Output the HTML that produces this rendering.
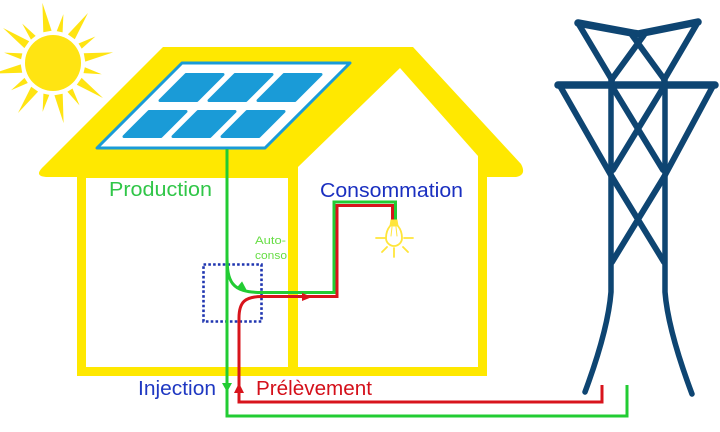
<!DOCTYPE html>
<html>
<head>
<meta charset="utf-8">
<style>
html,body{margin:0;padding:0;background:#fff;}
svg{display:block;}
text{font-family:"Liberation Sans", sans-serif;}
</style>
</head>
<body>
<svg width="720" height="432" viewBox="0 0 720 432" xmlns="http://www.w3.org/2000/svg">
  <rect width="720" height="432" fill="#fff"/>

  <!-- Sun -->
  <g transform="translate(53,63)" fill="#ffe412">
    <circle cx="0" cy="0" r="28"/>
    <g>
      <polygon points="32,-4.2 61,0 32,4.2" transform="rotate(-100)"/>
      <polygon points="32,-4.2 61,0 32,4.2" transform="rotate(-55)"/>
      <polygon points="32,-4.2 61,0 32,4.2" transform="rotate(-10)"/>
      <polygon points="32,-4.2 61,0 32,4.2" transform="rotate(35)"/>
      <polygon points="32,-4.2 61,0 32,4.2" transform="rotate(80)"/>
      <polygon points="32,-4.2 61,0 32,4.2" transform="rotate(125)"/>
      <polygon points="32,-4.2 61,0 32,4.2" transform="rotate(170)"/>
      <polygon points="32,-4.2 61,0 32,4.2" transform="rotate(215)"/>
      <polygon points="32,-3 50,0 32,3" transform="rotate(-78)"/>
      <polygon points="32,-3 50,0 32,3" transform="rotate(-32)"/>
      <polygon points="32,-3 50,0 32,3" transform="rotate(13)"/>
      <polygon points="32,-3 50,0 32,3" transform="rotate(58)"/>
      <polygon points="32,-3 50,0 32,3" transform="rotate(102)"/>
      <polygon points="32,-3 50,0 32,3" transform="rotate(147)"/>
      <polygon points="32,-3 50,0 32,3" transform="rotate(192)"/>
      <polygon points="32,-3 50,0 32,3" transform="rotate(232)"/>
    </g>
  </g>

  <!-- House -->
  <path fill="#ffe800" d="M44,166 L163,47 L413,47 L521,164 Q527,175 516,177 L487,177 L487,376 L77,376 L77,177 L46,177 Q33,176 44,166 Z"/>
  <rect x="86" y="178" width="202" height="189" fill="#fff"/>
  <polygon points="298,167 400,68 478,156 478,367 298,367" fill="#fff"/>

  <!-- Solar panel -->
  <polygon points="182,63 350,63 265,148 97,148" fill="#fff" stroke="#1a9bd7" stroke-width="3" stroke-linejoin="round"/>
  <g fill="#1a9bd7" stroke="#1a9bd7" stroke-width="3" stroke-linejoin="round">
    <polygon points="186,74.5 223,74.5 197,100.5 160,100.5"/>
    <polygon points="235,74.5 272,74.5 246,100.5 209,100.5"/>
    <polygon points="284,74.5 321,74.5 295,100.5 258,100.5"/>
    <polygon points="149,111.5 186,111.5 161,136.5 124,136.5"/>
    <polygon points="198,111.5 235,111.5 210,136.5 173,136.5"/>
    <polygon points="247,111.5 284,111.5 259,136.5 222,136.5"/>
  </g>

  <!-- Pylon -->
  <g fill="none" stroke="#0e4572" stroke-linecap="round" stroke-linejoin="round">
    <path d="M578,23 L638,34 L698,22" stroke-width="7.5"/>
    <path d="M558,85 L715,85" stroke-width="7.5"/>
    <path d="M578,23 L612,80 M698,22 L664,80" stroke-width="6"/>
    <path d="M632,35 L664,79 M644,35 L612,79" stroke-width="6"/>
    <path d="M560,86 L612,177 M713,86 L664,177" stroke-width="6"/>
    <path d="M613,88 L663,170 M663,88 L613,170" stroke-width="6"/>
    <path d="M612,177 L664,262 M664,177 L612,262" stroke-width="6"/>
    <path d="M611,80 L611,292 Q608,330 585,392" stroke-width="5.5"/>
    <path d="M665,80 L665,292 Q668,330 692,394" stroke-width="5.5"/>
  </g>

  <!-- Blue dotted box -->
  <rect x="203.5" y="264.5" width="58" height="57" fill="none" stroke="#1f35b0" stroke-width="2.6" stroke-dasharray="2.6 2.2"/>

  <!-- Green lines -->
  <g fill="none" stroke="#22cc33" stroke-width="3">
    <path d="M227,149 L227,416 L627,416 L627,385"/>
    <path d="M227,255 C227,282 231,292.5 262,292.5 L334,292.5 L334,202 L395.5,202 L395.5,221"/>
  </g>
  <!-- Red lines -->
  <g fill="none" stroke="#d8141c" stroke-width="3">
    <path d="M239,393 L239,402 L602,402 L602,385"/>
    <path d="M239,402 L239,318 C239,302 245,296.5 262,296.5 L337,296.5 L337,205.5 L392.5,205.5 L392.5,221"/>
  </g>

  <!-- Arrowheads -->
  <polygon points="222,383 232,383 227,392" fill="#22cc33"/>
  <polygon points="234,393 244,393 239,383" fill="#d8141c"/>
  <polygon points="-5,-4.5 6,0 -5,4.5" fill="#22cc33" transform="translate(243,288) rotate(40)"/>
  <polygon points="302,293 312,297 302,301" fill="#d8141c"/>

  <!-- Light bulb -->
  <g stroke="#ffe53a" fill="none" stroke-linecap="round">
    <path d="M391,220 L397,220 L398,226 L390,226 Z" fill="#ffe53a" stroke-width="1"/>
    <path d="M390,226 Q386,231 386,238 A8,8 0 0 0 402,238 Q402,231 398,226" stroke-width="1.8"/>
    <path d="M392,227 L391,236 M396,227 L397,236" stroke-width="1"/>
    <path d="M376,238 L385,238 M404,238 L413,238 M382,252 L387,247 M403,247 L408,252 M394,248 L394,257" stroke-width="1.8"/>
  </g>

  <!-- Labels -->
  <text x="109" y="196" font-size="20" fill="#30c648" textLength="103" lengthAdjust="spacingAndGlyphs">Production</text>
  <text x="320" y="197" font-size="20" fill="#1a2fc0" textLength="143" lengthAdjust="spacingAndGlyphs">Consommation</text>
  <text x="255" y="244" font-size="11" fill="#66dd44" textLength="31" lengthAdjust="spacingAndGlyphs">Auto-</text>
  <text x="255" y="259" font-size="11" fill="#66dd44" textLength="32" lengthAdjust="spacingAndGlyphs">conso</text>
  <text x="138" y="395" font-size="20" fill="#1f38c2" textLength="78" lengthAdjust="spacingAndGlyphs">Injection</text>
  <text x="256" y="395" font-size="20" fill="#d4101a" textLength="116" lengthAdjust="spacingAndGlyphs">Prélèvement</text>
</svg>
</body>
</html>
